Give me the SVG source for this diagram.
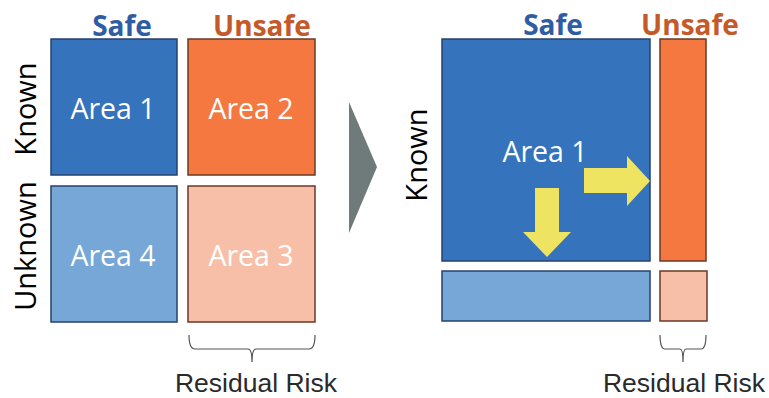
<svg xmlns="http://www.w3.org/2000/svg" width="769" height="398" viewBox="0 0 769 398">
<style>
.safe{fill:#3573BD;stroke:#26426E;stroke-width:1.5}
.light{fill:#76A7D6;stroke:#26426E;stroke-width:1.5}
.unsafe{fill:#F47840;stroke:#6A3A24;stroke-width:1.5}
.salmon{fill:#F7BFA7;stroke:#6A3A24;stroke-width:1.5}
.lbl{font-family:"Open Sans","Liberation Sans",sans-serif;font-size:28.5px;fill:#FFFFFF;text-anchor:middle}
.hdr{font-family:"Open Sans","Liberation Sans",sans-serif;font-size:28px;font-weight:bold;text-anchor:middle}
.side{font-family:"Open Sans","Liberation Sans",sans-serif;font-size:29px;fill:#000;text-anchor:middle}
.rr{font-family:"Liberation Sans",Arial,sans-serif;font-size:26.5px;fill:#2A2A2A;text-anchor:middle}
.brace{fill:none;stroke:#555;stroke-width:1.2}
.yarrow{fill:#EEE462}
</style>
<g id="headers-left">
<text class="hdr" x="122" y="36" fill="#2E5DA4">Safe</text>
<text class="hdr" x="262" y="36" fill="#C5592A">Unsafe</text>
</g>
<g id="side-left">
<text class="side" transform="translate(36,109) rotate(-90)">Known</text>
<text class="side" transform="translate(36,246) rotate(-90)">Unknown</text>
</g>
<g id="area1-left"><rect class="safe" x="51" y="39" width="126" height="136"/><text class="lbl" x="113" y="119">Area 1</text></g>
<g id="area2-left"><rect class="unsafe" x="188" y="39" width="127" height="136"/><text class="lbl" x="251" y="119">Area 2</text></g>
<g id="area4-left"><rect class="light" x="51" y="186" width="126" height="136"/><text class="lbl" x="113" y="266">Area 4</text></g>
<g id="area3-left"><rect class="salmon" x="188" y="186" width="127" height="136"/><text class="lbl" x="251" y="266">Area 3</text></g>
<g id="residual-left">
<path class="brace" d="M189,335 Q189,349 195,349 L248,349 Q252,349 252,362 Q252,349 256,349 L309,349 Q315,349 315,335"/>
<text class="rr" x="256" y="392">Residual Risk</text>
</g>
<g id="chevron"><polygon points="349,102 377,167 349,233" fill="#6F7B7B"/></g>
<g id="headers-right">
<text class="hdr" x="553" y="35" fill="#2E5DA4">Safe</text>
<text class="hdr" x="690" y="35" fill="#C5592A">Unsafe</text>
</g>
<g id="side-right"><text class="side" transform="translate(427,155) rotate(-90)">Known</text></g>
<g id="area1-right"><rect class="safe" x="442" y="39" width="208" height="222"/><text class="lbl" x="545" y="162">Area 1</text></g>
<g id="area2-right"><rect class="unsafe" x="660" y="39" width="46" height="222"/></g>
<g id="area4-right"><rect class="light" x="442" y="271" width="208" height="50"/></g>
<g id="area3-right"><rect class="salmon" x="660" y="271" width="47" height="50"/></g>
<g id="connectors">
<polygon class="yarrow" points="584,168 627,168 627,156 650,181 627,206 627,193 584,193"/>
<polygon class="yarrow" points="535,188 559,188 559,232 571,232 547,257 523,232 535,232"/>
</g>
<g id="residual-right">
<path class="brace" d="M660,335 Q660,349 665,349 L680,349 Q683,349 683,362 Q683,349 686,349 L701,349 Q706,349 706,335"/>
<text class="rr" x="684" y="392">Residual Risk</text>
</g>
</svg>
